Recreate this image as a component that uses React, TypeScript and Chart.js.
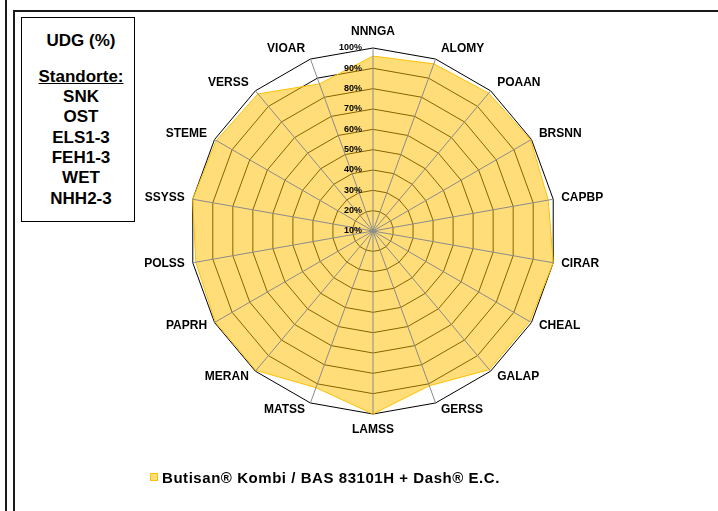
import React, { useEffect, useRef } from "react";
import { Chart, registerables } from "chart.js";

Chart.register(...registerables);

const categories = [
  "NNNGA", "ALOMY", "POAAN", "BRSNN", "CAPBP", "CIRAR", "CHEAL", "GALAP", "GERSS",
  "LAMSS", "MATSS", "MERAN", "PAPRH", "POLSS", "SSYSS", "STEME", "VERSS", "VIOAR",
];
const seriesName = "Butisan® Kombi / BAS 83101H + Dash® E.C.";
const seriesValues = [96, 97.5, 98.5, 99.5, 97.5, 100, 99, 99, 91, 100, 92, 99.5, 99.5, 98.5, 100, 99, 98, 87];
const tickValues = [10, 20, 30, 40, 50, 60, 70, 80, 90, 100];
const tickLabels = ["10%", "20%", "30%", "40%", "50%", "60%", "70%", "80%", "90%", "100%"];
const infoTitle = "UDG (%)";
const infoHeading = "Standorte:";
const sites = ["SNK", "OST", "ELS1-3", "FEH1-3", "WET", "NHH2-3"];

const FONT = "'Liberation Sans', Arial, Helvetica, sans-serif";
const FILL = "rgba(255, 192, 0, 0.52)";
const EDGE = "#FFC000";

const overlayPlugin = {
  id: "overlayPlugin",
  afterDatasetsDraw(chart: any) {
    const scale = chart.scales.r;
    const ctx = chart.ctx as CanvasRenderingContext2D;
    const R = scale.getDistanceFromCenterForValue(scale.max);
    const cx = scale.xCenter;
    const cy = scale.yCenter;
    ctx.save();
    // spokes on top of the fill
    ctx.strokeStyle = "#8a8a8a";
    ctx.lineWidth = 1;
    categories.forEach((_, i) => {
      const p = scale.getPointPosition(i, R);
      ctx.beginPath();
      ctx.moveTo(cx, cy);
      ctx.lineTo(p.x, p.y);
      ctx.stroke();
    });
    // tick labels
    ctx.fillStyle = "#000";
    ctx.font = `bold 9px ${FONT}`;
    ctx.textAlign = "right";
    ctx.textBaseline = "middle";
    tickValues.forEach((v, k) => {
      const d = scale.getDistanceFromCenterForValue(v);
      ctx.fillText(tickLabels[k], cx - 11, cy - d);
    });
    // category labels
    ctx.font = `bold 12px ${FONT}`;
    categories.forEach((c, i) => {
      const ang = scale.getIndexAngle(i);
      const s = Math.sin(ang);
      const co = Math.cos(ang);
      const p = scale.getPointPosition(i, R + 4);
      let x = p.x;
      let y = p.y;
      let align: CanvasTextAlign;
      if (Math.abs(s) < 0.05) {
        align = "center";
        y += co > 0 ? -12 : 12;
      } else {
        align = s > 0 ? "left" : "right";
        x += s > 0 ? 4 : -4;
        y += co > 0 ? -7 * co : -3 * co;
      }
      ctx.textAlign = align;
      ctx.fillText(c, x, y);
    });
    ctx.restore();
  },
};

export default function App() {
  const canvasRef = useRef<HTMLCanvasElement | null>(null);

  useEffect(() => {
    if (!canvasRef.current) return;
    const chart = new Chart(canvasRef.current, {
      type: "radar",
      data: {
        labels: categories,
        datasets: [
          {
            label: seriesName,
            data: seriesValues,
            backgroundColor: FILL,
            borderColor: EDGE,
            borderWidth: 1,
            pointRadius: 0,
            pointHoverRadius: 0,
            fill: true,
            tension: 0,
          },
        ],
      },
      options: {
        responsive: false,
        animation: false,
        layout: { padding: { left: 190, right: 162, top: 48, bottom: 97 } },
        plugins: {
          legend: { display: false },
          tooltip: { enabled: false },
        },
        scales: {
          r: {
            min: 10,
            max: 100,
            ticks: { display: false, stepSize: 10 },
            grid: { color: "#000", lineWidth: 1, circular: false },
            angleLines: { display: false },
            pointLabels: { display: false },
          },
        },
      },
      plugins: [overlayPlugin],
    } as any);
    return () => chart.destroy();
  }, []);

  return (
    <div
      style={{
        position: "fixed",
        left: 0,
        top: 0,
        width: 718,
        height: 511,
        background: "#fff",
        overflow: "hidden",
        fontFamily: FONT,
      }}
    >
      <canvas ref={canvasRef} width={718} height={511} style={{ position: "absolute", left: 0, top: 0, display: "block" }} />
      <div style={{ position: "absolute", left: 5, top: 0, width: 2, height: 511, background: "#1a1a1a" }} />
      <div
        style={{
          position: "absolute",
          left: 13,
          top: 10,
          right: -4,
          bottom: -4,
          borderLeft: "2px solid #1a1a1a",
          borderTop: "2px solid #1a1a1a",
          pointerEvents: "none",
        }}
      />
      <div
        style={{
          position: "absolute",
          left: 21,
          top: 17,
          width: 114,
          height: 205,
          boxSizing: "border-box",
          border: "1.5px solid #000",
          background: "#fff",
          display: "flex",
          flexDirection: "column",
          alignItems: "center",
          paddingTop: 13,
          paddingLeft: 6,
          fontWeight: "bold",
          fontSize: 17,
          lineHeight: "20.3px",
          color: "#000",
        }}
      >
        <div>{infoTitle}</div>
        <div style={{ marginTop: 15.5, textDecoration: "underline" }}>{infoHeading}</div>
        {sites.map((s) => (
          <div key={s}>{s}</div>
        ))}
      </div>
      <div
        style={{
          position: "absolute",
          left: 150,
          top: 468,
          height: 18,
          display: "flex",
          alignItems: "center",
          fontWeight: "bold",
          fontSize: 15,
          letterSpacing: 0.55,
          color: "#000",
          whiteSpace: "nowrap",
        }}
      >
        <span
          style={{
            display: "inline-block",
            width: 8,
            height: 8,
            boxSizing: "border-box",
            background: "#FFDC7A",
            border: `1px solid ${EDGE}`,
            marginRight: 4,
          }}
        />
        <span>{seriesName}</span>
      </div>
    </div>
  );
}
